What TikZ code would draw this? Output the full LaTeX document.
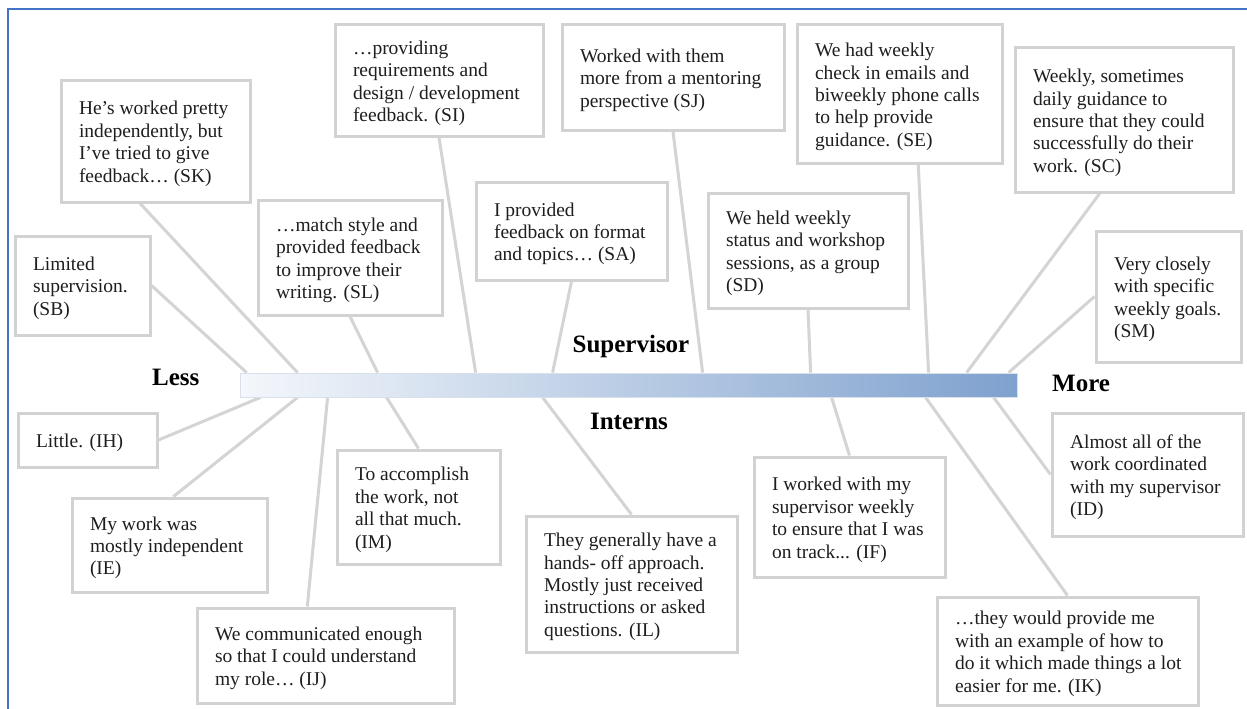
\documentclass[tikz,border=0pt]{standalone}
\usepackage{fontspec}
\setmainfont{Liberation Serif}
\usetikzlibrary{calc}
\definecolor{framecol}{HTML}{4472C4}
\definecolor{linecol}{HTML}{D4D4D4}
\definecolor{boxcol}{HTML}{D2D2D2}
\definecolor{txt}{HTML}{1E1E1E}
\definecolor{barL}{HTML}{F4F7FB}
\definecolor{barR}{HTML}{7FA1CE}
\definecolor{barEdge}{HTML}{D8E0EC}
\pgfdeclarelayer{bg}
\pgfsetlayers{bg,main}
% left-aligned block of quote lines inside a box of width #1 (18pt side padding),
% set 3pt lower than the box centre
\newcommand\qtext[2]{\makebox[\dimexpr#1pt-36pt\relax][l]{\raisebox{-3pt}[\height][\depth]{\begin{tabular}{@{}l@{}}#2\end{tabular}}}}
\tikzset{
  quote/.style={draw=boxcol, line width=3pt, fill=white, inner sep=0pt,
    text=txt, font=\fontsize{19.5}{22.4}\selectfont},
  conn/.style={draw=linecol, line width=3pt},
  axislabel/.style={font=\fontsize{25}{30}\selectfont\bfseries, text=black, inner sep=0pt},
}
\begin{document}
\begin{tikzpicture}[x=1pt,y=-1pt]
\useasboundingbox (0,0) rectangle (1247,709);

% scale bar
\node[draw=barEdge, line width=0.8pt, left color=barL, right color=barR,
      minimum width=777pt, minimum height=24pt, inner sep=0pt] (bar) at (628.5,385) {};

\node[axislabel, anchor=base west] (less) at (152,385) {Less};
\node[axislabel, anchor=base west] (more) at (1052,391) {More};
\node[axislabel, anchor=base] (sup) at (631,352) {Supervisor};
\node[axislabel, anchor=base] (int) at (629,429) {Interns};

% supervisor quotes
\node[quote, minimum width=189pt, minimum height=122pt] (SK) at (155.5,141)
  {\qtext{189}{He’s worked pretty\\ independently, but\\ I’ve tried to give\\ feedback… (SK)}};
\node[quote, minimum width=208pt, minimum height=111pt] (SI) at (439,80.5)
  {\qtext{208}{…providing\\ requirements and\\ design / development\\ feedback. (SI)}};
\node[quote, minimum width=222pt, minimum height=105pt] (SJ) at (673,77.5)
  {\qtext{222}{Worked with them\\ more from a mentoring\\ perspective (SJ)}};
\node[quote, minimum width=205pt, minimum height=138pt] (SE) at (899.5,94)
  {\qtext{205}{We had weekly\\ check in emails and\\ biweekly phone calls\\ to help provide\\ guidance. (SE)}};
\node[quote, minimum width=218pt, minimum height=144pt] (SC) at (1124,120)
  {\qtext{218}{Weekly, sometimes\\ daily guidance to\\ ensure that they could\\ successfully do their\\ work. (SC)}};
\node[quote, minimum width=191pt, minimum height=98pt] (SA) at (571.5,231)
  {\qtext{191}{I provided\\ feedback on format\\ and topics… (SA)}};
\node[quote, minimum width=184pt, minimum height=115pt] (SL) at (350,257.5)
  {\qtext{184}{…match style and\\ provided feedback\\ to improve their\\ writing. (SL)}};
\node[quote, minimum width=200pt, minimum height=115pt] (SD) at (808,250.5)
  {\qtext{200}{We held weekly\\ status and workshop\\ sessions, as a group\\ (SD)}};
\node[quote, minimum width=135pt, minimum height=99pt] (SB) at (82.5,285.5)
  {\qtext{135}{Limited\\ supervision.\\ (SB)}};
\node[quote, minimum width=145pt, minimum height=131pt] (SM) at (1168.5,296.5)
  {\qtext{145}{Very closely\\ with specific\\ weekly goals.\\ (SM)}};

% intern quotes
\node[quote, minimum width=139pt, minimum height=54pt] (IH) at (87.5,440)
  {\qtext{139}{Little. (IH)}};
\node[quote, minimum width=195pt, minimum height=94pt] (IE) at (169.5,545)
  {\qtext{195}{My work was\\ mostly independent\\ (IE)}};
\node[quote, minimum width=257pt, minimum height=95pt] (IJ) at (325.5,655.5)
  {\qtext{257}{We communicated enough\\ so that I could understand\\ my role… (IJ)}};
\node[quote, minimum width=163pt, minimum height=114pt] (IM) at (418.5,507)
  {\qtext{163}{To accomplish\\ the work, not\\ all that much.\\ (IM)}};
\node[quote, minimum width=211pt, minimum height=136pt] (IL) at (631.5,584)
  {\qtext{211}{They generally have a\\ hands- off approach.\\ Mostly just received\\ instructions or asked\\ questions. (IL)}};
\node[quote, minimum width=191pt, minimum height=120pt] (IF) at (849.5,517)
  {\qtext{191}{I worked with my\\ supervisor weekly\\ to ensure that I was\\ on track... (IF)}};
\node[quote, minimum width=261pt, minimum height=108pt] (IK) at (1067.5,651)
  {\qtext{261}{…they would provide me\\ with an example of how to\\ do it which made things a lot\\ easier for me. (IK)}};
\node[quote, minimum width=191pt, minimum height=123pt] (ID) at (1147.5,474.5)
  {\qtext{191}{Almost all of the\\ work coordinated\\ with my supervisor\\ (ID)}};

% page background, frame and the connectors from each quote to the bar
\begin{pgfonlayer}{bg}
\fill[white] (0,0) rectangle (1247,709);
\draw[framecol, line width=2pt] (8,709) -- (8,9) -- (1247,9);
\draw[conn] (SB.east) -- ($(bar.north west)+(7,0)$);
\draw[conn] ($(SK.south west)!0.42!(SK.south east)$) -- ($(bar.north west)+(58,0)$);
\draw[conn] (SL.south) -- ($(bar.north west)+(138,0)$);
\draw[conn] (SI.south) -- ($(bar.north west)+(236,0)$);
\draw[conn] (SA.south) -- ($(bar.north west)+(313,0)$);
\draw[conn] (SJ.south) -- ($(bar.north west)+(463,0)$);
\draw[conn] (SD.south) -- ($(bar.north west)+(571,0)$);
\draw[conn] ($(SE.south west)!0.59!(SE.south east)$) -- ($(bar.north west)+(689,0)$);
\draw[conn] ($(SC.south west)!0.39!(SC.south east)$) -- ($(bar.north west)+(727,0)$);
\draw[conn] (SM.west) -- ($(bar.north west)+(769,0)$);
\draw[conn] (IH.east) -- ($(bar.south west)+(21,0)$);
\draw[conn] ($(IE.north west)!0.52!(IE.north east)$) -- ($(bar.south west)+(58,0)$);
\draw[conn] ($(IJ.north west)!0.43!(IJ.north east)$) -- ($(bar.south west)+(88,0)$);
\draw[conn] (IM.north) -- ($(bar.south west)+(147,0)$);
\draw[conn] (IL.north) -- ($(bar.south west)+(303,0)$);
\draw[conn] (IF.north) -- ($(bar.south west)+(592,0)$);
\draw[conn] (IK.north) -- ($(bar.south west)+(686,0)$);
\draw[conn] (ID.west) -- ($(bar.south west)+(754,0)$);
\end{pgfonlayer}
\end{tikzpicture}
\end{document}
